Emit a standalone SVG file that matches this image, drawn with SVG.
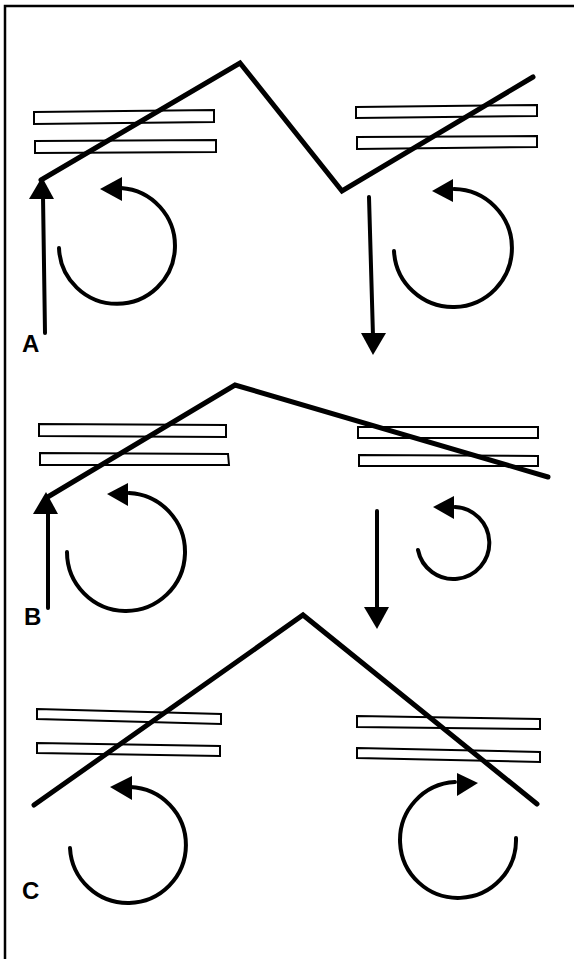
<svg xmlns="http://www.w3.org/2000/svg" width="574" height="959" viewBox="0 0 574 959">
<style>
.bar{fill:#fff;stroke:#000;stroke-width:2}
.zig{fill:none;stroke:#000;stroke-width:5;stroke-linejoin:miter;stroke-linecap:round}
.rot{fill:none;stroke:#000;stroke-width:4;stroke-linecap:round}
.shaft{fill:none;stroke:#000;stroke-width:4;stroke-linecap:round}
.head{fill:#000}
.lbl{font-family:"Liberation Sans",Arial,sans-serif;font-weight:bold;font-size:24px;fill:#000}
</style>
<rect width="574" height="959" fill="#fff"/>
<path d="M5 959 V6 H574" fill="none" stroke="#000" stroke-width="2.5"/>

<g id="panelA">
  <g id="A-left-plates">
    <polygon class="bar" points="34,112 214,110 214,122 34,124"/>
    <polygon class="bar" points="35,141 216,140 216,152 35,153"/>
  </g>
  <g id="A-right-plates">
    <polygon class="bar" points="356,107 537,105 537,116 356,118"/>
    <polygon class="bar" points="357,137 537,136 537,147 357,149"/>
  </g>
  <g id="A-left-rotation">
    <path class="rot" d="M59 248 A58 58 0 1 0 121 188"/>
    <polygon class="head" points="100,189 122,177 122,201"/>
  </g>
  <g id="A-right-rotation">
    <path class="rot" d="M394 251 A59 59 0 1 0 454 189"/>
    <polygon class="head" points="432,191 453,179 453,202"/>
  </g>
  <text class="lbl" x="22" y="352">A</text>
</g>

<g id="panelB">
  <g id="B-left-plates">
    <polygon class="bar" points="39,424 226,425 226,437 39,436"/>
    <polygon class="bar" points="40,453 228,454 229,465 40,465"/>
  </g>
  <g id="B-right-plates">
    <polygon class="bar" points="358,427 538,427 538,438 358,438"/>
    <polygon class="bar" points="359,455 538,456 538,466 359,466"/>
  </g>
  <g id="B-left-rotation">
    <path class="rot" d="M67 552 A59 59 0 1 0 129 493"/>
    <polygon class="head" points="107,494 128,483 128,506"/>
  </g>
  <g id="B-right-rotation">
    <path class="rot" d="M418 550 A36 36 0 1 0 455 507"/>
    <polygon class="head" points="433,507 454,496 454,519"/>
  </g>
  <text class="lbl" x="24" y="625">B</text>
</g>

<g id="panelC">
  <g id="C-left-plates">
    <polygon class="bar" points="37,709 221,714 221,724 37,719"/>
    <polygon class="bar" points="37,743 220,746 220,756 37,753"/>
  </g>
  <g id="C-right-plates">
    <polygon class="bar" points="357,716 540,719 540,729 357,727"/>
    <polygon class="bar" points="357,748 540,752 540,762 357,758"/>
  </g>
  <g id="C-left-rotation">
    <path class="rot" d="M70 848 A58 58 0 1 0 130 787"/>
    <polygon class="head" points="110,787 132,776 132,800"/>
  </g>
  <g id="C-right-rotation">
    <path class="rot" d="M516 838 A58 58 0 1 1 455 782"/>
    <polygon class="head" points="478,783 457,773 457,796"/>
  </g>
  <text class="lbl" x="22" y="899">C</text>
</g>

<g id="connectors">
  <polyline class="zig" points="41,180 240,63 342,191 533,77"/>
  <path class="shaft" d="M45 333 L43 196"/>
  <polygon class="head" points="42,177 29,199 54,199"/>
  <path class="shaft" d="M369 197 L373 336"/>
  <polygon class="head" points="373,355 361,333 386,333"/>

  <polyline class="zig" points="46,498 235,385 548,477"/>
  <path class="shaft" d="M48 608 L48 510"/>
  <polygon class="head" points="46,492 33,514 58,514"/>
  <path class="shaft" d="M377 511 L377 610"/>
  <polygon class="head" points="377,629 364,607 389,607"/>

  <polyline class="zig" points="34,805 303,615 537,804"/>
</g>
</svg>
